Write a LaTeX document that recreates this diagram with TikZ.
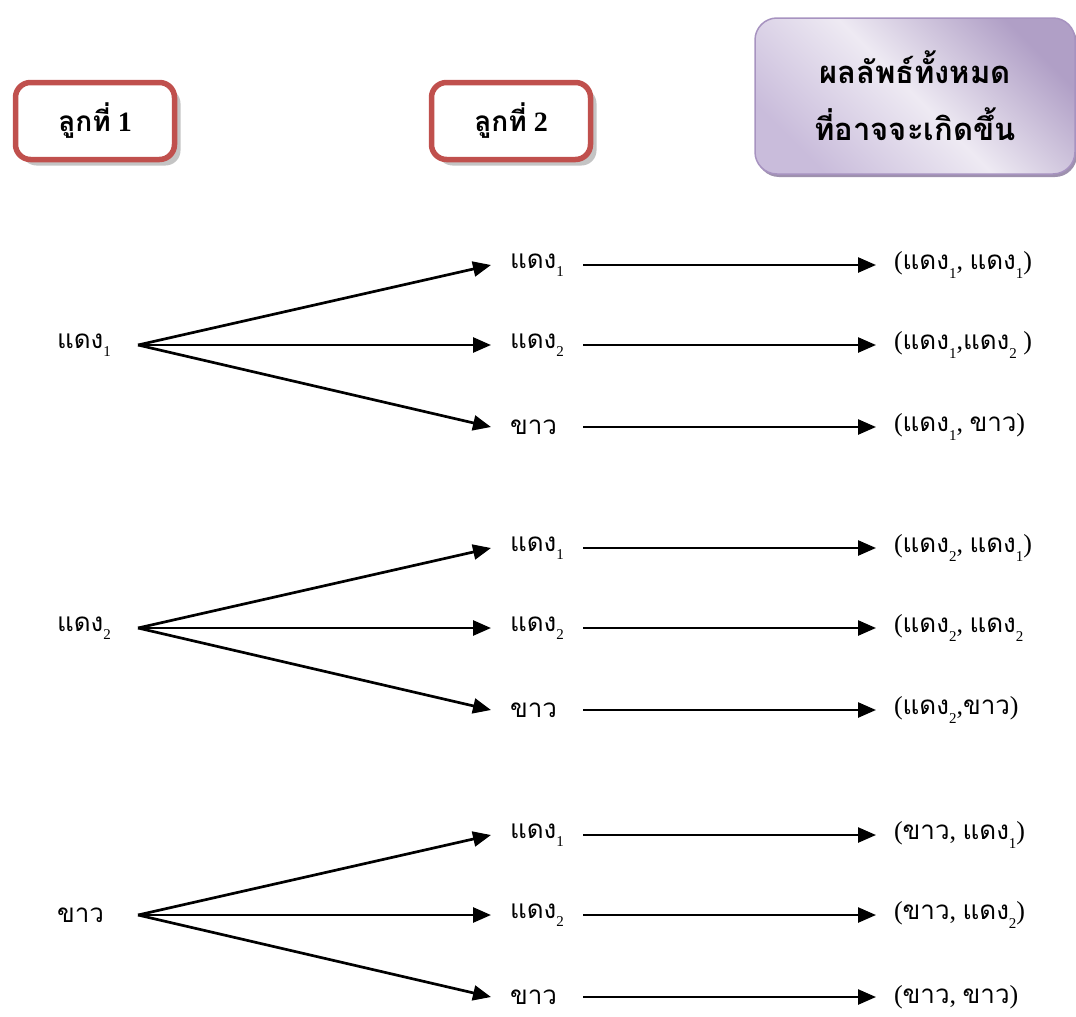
\documentclass[tikz,border=0pt]{standalone}
\usepackage{fontspec}
\setmainfont{Liberation Serif}
\newfontfamily\thai[Script=Thai]{Loma}
\usetikzlibrary{arrows.meta,shadows}
\definecolor{boxred}{HTML}{C0504D}
\definecolor{shadowgrey}{HTML}{C4C4C4}
\definecolor{lavlight}{HTML}{EEEAF3}
\definecolor{lavmid}{HTML}{C9BCDB}
\definecolor{lavdark}{HTML}{B09FC6}
\definecolor{lavedge}{HTML}{A793C0}
% Thai words set in Loma, everything else in the serif main font
\newcommand{\tw}[1]{{\thai #1}}
\newcommand{\lo}[1]{\raisebox{-0.7ex}{\fontsize{15}{15}\selectfont #1}}
\newcommand{\red}[1]{\tw{แดง}\lo{#1}}
\newcommand{\wh}{\tw{ขาว}}
\begin{document}
\begin{tikzpicture}[x=1pt,y=-1pt,
  every node/.style={inner sep=0pt,outer sep=0pt,font=\fontsize{26}{28}\selectfont},
  ballbox/.style={draw=boxred,line width=5.5pt,rounded corners=15pt,fill=white,
    minimum width=159pt,minimum height=77pt,font=\bfseries\fontsize{28}{28}\selectfont,
    drop shadow={shadow xshift=6pt,shadow yshift=-6pt,fill=shadowgrey,opacity=1}},
  resultbox/.style={draw=lavedge,line width=1.5pt,rounded corners=22pt,
    minimum width=320pt,minimum height=156pt,align=center,
    left color=lavmid,right color=lavdark,middle color=lavlight,shading angle=135,
    font=\bfseries\fontsize{31}{57}\selectfont,
    drop shadow={shadow xshift=2pt,shadow yshift=-3pt,fill=lavedge!80!black,opacity=0.8}},
  item/.style={anchor=west},
  branch/.style={line width=2.7pt,-{Triangle[length=18pt,width=15pt]}},
  flow/.style={line width=2.5pt,-{Triangle[length=18pt,width=15pt]}}
]
\useasboundingbox (0,0) rectangle (1076,1017);

% column headers
\node[ballbox] (h1) at (95,121) {\raisebox{-4pt}{\tw{ลูกที่} 1}};
\node[ballbox] (h2) at (511,121) {\raisebox{-4pt}{\tw{ลูกที่} 2}};
\node[resultbox] (h3) at (915,96) {\tw{ผลลัพธ์ทั้งหมด}\\\tw{ที่อาจจะเกิดขึ้น}};

% first draw
\node[item] (a) at (57,345) {\red1};
\node[item] (b) at (57,628) {\red2};
\node[item] (c) at (57,915) {\wh};
\coordinate (ao) at (138,345);
\coordinate (bo) at (138,628);
\coordinate (co) at (138,915);

% second draw and outcomes, group by group
\foreach \g/\y/\o/\pA/\pB/\pC in {
  a/345/ao/{(\red1, \red1)}/{(\red1,\red2 )}/{(\red1, \wh)},
  b/628/bo/{(\red2, \red1)}/{(\red2, \red2}/{(\red2,\wh)},
  c/915/co/{(\wh, \red1)}/{(\wh, \red2)}/{(\wh, \wh)}}{
  \node[item] (\g1) at (510,\y-80) {\red1};
  \node[item] (\g2) at (510,\y) {\red2};
  \node[item] (\g3) at (510,\y+82) {\wh};
  \node[item] (\g1r) at (894,\y-80) {\pA};
  \node[item] (\g2r) at (894,\y) {\pB};
  \node[item] (\g3r) at (894,\y+82) {\pC};
  \foreach \k in {1,2,3}{
    \draw[branch] (\o) -- ([xshift=-19pt]\g\k.west);
    \draw[flow] ([xshift=73pt]\g\k.west) -- ([xshift=-18pt]\g\k r.west);
  }
}
\end{tikzpicture}
\end{document}
